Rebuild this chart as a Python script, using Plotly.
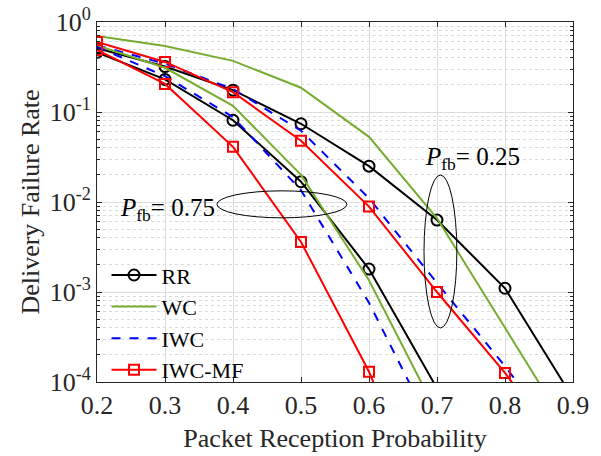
import plotly.graph_objects as go

p = [0.2, 0.3, 0.4, 0.5, 0.6, 0.7, 0.8, 0.9]

# P_fb = 0.25
RR_025 = [0.51, 0.32, 0.175, 0.074, 0.025, 0.0063, 0.0011, 6.6e-5]
WC_025 = [0.70, 0.54, 0.37, 0.186, 0.053, 0.0066, 4.0e-4, 2.4e-5]
IWC_025 = [0.55, 0.345, 0.18, 0.062, 0.011, 0.00126, 1.5e-4, 1.5e-5]
IWCMF_025 = [0.60, 0.36, 0.166, 0.048, 0.0089, 0.001, 1.26e-4, 1.2e-5]

# P_fb = 0.75
p75 = [0.2, 0.3, 0.4, 0.5, 0.6, 0.7]
RR_075 = [0.46, 0.23, 0.081, 0.0168, 0.0018, 8.5e-5]
WC_075 = [0.55, 0.31, 0.117, 0.020, 0.00135, 4.5e-5]
IWC_075 = [0.53, 0.25, 0.088, 0.0135, 7.6e-4, 2.4e-5]
IWCMF_075 = [0.49, 0.205, 0.041, 0.0036, 1.3e-4, 2e-6]

names = ["RR", "WC", "IWC", "IWC-MF"]
xticks = [0.2, 0.3, 0.4, 0.5, 0.6, 0.7, 0.8, 0.9]
yticks = [1e-4, 1e-3, 1e-2, 1e-1, 1]
ytext = ["10<sup>-4</sup>", "10<sup>-3</sup>", "10<sup>-2</sup>", "10<sup>-1</sup>", "10<sup>0</sup>"]

GREEN = "#77AC30"
styles = {
    "RR": dict(line=dict(color="black", width=2), marker=dict(symbol="circle-open", size=11, color="black", line=dict(width=2)), mode="lines+markers"),
    "WC": dict(line=dict(color=GREEN, width=2), mode="lines"),
    "IWC": dict(line=dict(color="#0000FF", width=2, dash="dash"), mode="lines"),
    "IWC-MF": dict(line=dict(color="#FF0000", width=2), marker=dict(symbol="square-open", size=10, color="#FF0000", line=dict(width=2)), mode="lines+markers"),
}

fig = go.Figure()
series25 = {"RR": RR_025, "WC": WC_025, "IWC": IWC_025, "IWC-MF": IWCMF_025}
series75 = {"RR": RR_075, "WC": WC_075, "IWC": IWC_075, "IWC-MF": IWCMF_075}
for n in names:
    fig.add_trace(go.Scatter(x=p, y=series25[n], name=n, **styles[n]))
for n in names:
    fig.add_trace(go.Scatter(x=p75, y=series75[n], name=n, showlegend=False, **styles[n]))

FONT = "Liberation Serif"
TXT = "#262626"

fig.update_layout(
    width=601, height=456,
    margin=dict(l=97, r=28, t=22, b=74),
    paper_bgcolor="white", plot_bgcolor="white",
    font=dict(family=FONT, size=25, color=TXT),
    showlegend=True,
    legend=dict(x=0.02, y=0.355, xanchor="left", yanchor="top", bgcolor="rgba(0,0,0,0)",
                font=dict(family=FONT, size=22, color="black"), itemwidth=45, tracegroupgap=0),
    xaxis=dict(
        range=[0.2, 0.9], tickvals=xticks, ticktext=[f"{v:.1f}" for v in xticks],
        showgrid=True, gridcolor="#dcdcdc", gridwidth=1,
        ticks="inside", ticklen=5, tickcolor=TXT,
        showline=True, linecolor=TXT, linewidth=1, mirror="ticks",
        zeroline=False, automargin=False,
        title=dict(text="Packet Reception Probability", font=dict(family=FONT, size=26, color=TXT), standoff=9),
        tickfont=dict(family=FONT, size=26, color=TXT),
    ),
    yaxis=dict(
        type="log", range=[-4, 0], tickvals=yticks, ticktext=ytext,
        showgrid=True, gridcolor="#dcdcdc", gridwidth=1,
        ticks="inside", ticklen=5, tickcolor=TXT,
        showline=True, linecolor=TXT, linewidth=1, mirror="ticks",
        zeroline=False, automargin=False,
        minor=dict(tickvals=[k * 10 ** e for e in range(-4, 0) for k in range(2, 10)],
                   ticks="inside", ticklen=3, tickcolor=TXT,
                   showgrid=True, gridcolor="#dadada", griddash="dot", gridwidth=1),
        title=dict(text="Delivery Failure Rate", font=dict(family=FONT, size=26, color=TXT), standoff=2),
        tickfont=dict(family=FONT, size=26, color=TXT),
    ),
)

fig.add_annotation(xref="paper", yref="paper", x=0.252, y=0.478, xanchor="right", yanchor="middle",
                   text="<i>P</i><sub>fb</sub>= 0.75", showarrow=False, font=dict(family=FONT, size=25, color="black"))
fig.add_annotation(xref="paper", yref="paper", x=0.685, y=0.622, xanchor="left", yanchor="middle",
                   text="<i>P</i><sub>fb</sub>= 0.25", showarrow=False, font=dict(family=FONT, size=25, color="black"))

fig.add_shape(type="circle", xref="paper", yref="paper", x0=0.252, x1=0.525, y0=0.456, y1=0.531,
              line=dict(color="black", width=1))
fig.add_shape(type="circle", xref="paper", yref="paper", x0=0.687, x1=0.756, y0=0.15, y1=0.575,
              line=dict(color="black", width=1))

fig.write_html("out.html", config={"displayModeBar": False},
               post_script="document.body.style.margin='0';document.body.style.padding='0';")
